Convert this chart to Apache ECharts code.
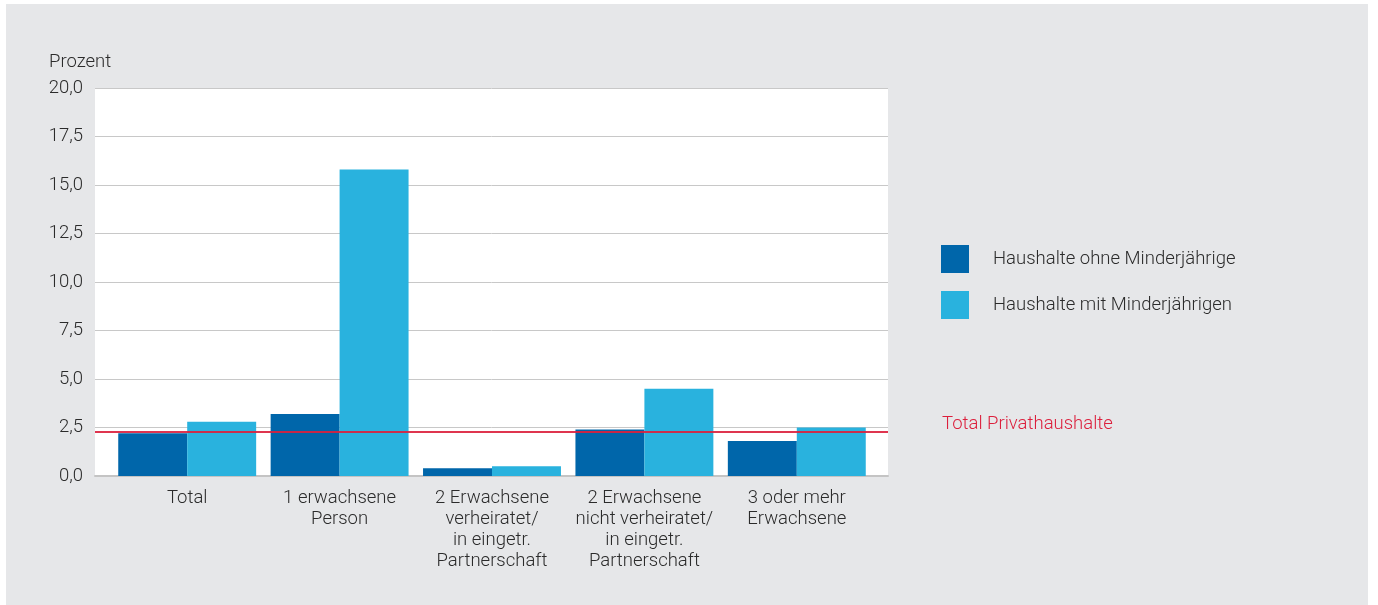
<!DOCTYPE html>
<html>
<head>
<meta charset="utf-8">
<script src="https://cdn.jsdelivr.net/npm/echarts@6/dist/echarts.min.js"></script>
<style>
  html, body { margin: 0; padding: 0; background: #ffffff; }
  #panel { position: absolute; left: 6px; top: 4px; width: 1362px; height: 601px; background: #e6e7e9; }
  #chart { width: 1362px; height: 601px; }
</style>
</head>
<body>
<div id="panel"><div id="chart"></div></div>
<script>
// Haushaltstypen (x-Achse)
const categories = [
  'Total',
  '1 erwachsene\nPerson',
  '2 Erwachsene\nverheiratet/\nin eingetr.\nPartnerschaft',
  '2 Erwachsene\nnicht verheiratet/\nin eingetr.\nPartnerschaft',
  '3 oder mehr\nErwachsene'
];
const seriesNames = ['Haushalte ohne Minderjährige', 'Haushalte mit Minderjährigen'];
const ohneMinderjaehrige = [2.2, 3.2, 0.4, 2.4, 1.8];
const mitMinderjaehrigen = [2.8, 15.8, 0.5, 4.5, 2.5];
const totalPrivathaushalte = 2.3;
const yTicks = { min: 0, max: 20, interval: 2.5 };

const font = 'Roboto, "Liberation Sans", sans-serif';
const fontWeight = 300;
const textColor = '#2b2b2b';
const fontSize = 18.5;

const chart = echarts.init(document.getElementById('chart'), null, { renderer: 'canvas' });
chart.setOption({
  animation: false,
  backgroundColor: '#e6e7e9',
  textStyle: { fontFamily: font, fontWeight: fontWeight },
  grid: [
    // Plotfläche mit Gitterlinien und y-Beschriftung
    { left: 89, top: 84, width: 793, height: 388, show: true, backgroundColor: '#ffffff', borderWidth: 0 },
    // eingerückter Bereich für die Balkengruppen
    { left: 105, top: 84, width: 762, height: 388 }
  ],
  legend: {
    orient: 'vertical',
    left: 930, top: 236,
    itemWidth: 28, itemHeight: 28, itemGap: 18,
    icon: 'rect',
    data: seriesNames,
    textStyle: { fontFamily: font, fontWeight: fontWeight, fontSize: fontSize, color: textColor, padding: [0, 0, 0, 19] }
  },
  xAxis: [
    {
      gridIndex: 0, type: 'value', min: 0, max: 1,
      axisLabel: { show: false }, axisTick: { show: false }, splitLine: { show: false },
      axisLine: { show: true, onZero: false, lineStyle: { color: '#c4c4c4', width: 2 } }
    },
    {
      gridIndex: 1, type: 'category', data: categories,
      axisTick: { show: false },
      axisLine: { show: false },
      axisLabel: {
        interval: 0, margin: 12, fontSize: fontSize, lineHeight: 21,
        color: textColor, fontFamily: font, fontWeight: fontWeight, align: 'center'
      }
    }
  ],
  yAxis: [
    {
      gridIndex: 0, type: 'value',
      min: yTicks.min, max: yTicks.max, interval: yTicks.interval,
      axisLine: { show: false },
      axisTick: { show: false },
      splitLine: { lineStyle: { color: '#c8c8c8', width: 1 } },
      axisLabel: {
        margin: 12, fontSize: fontSize, color: textColor, fontFamily: font, fontWeight: fontWeight,
        formatter: v => v.toFixed(1).replace('.', ',')
      }
    },
    {
      gridIndex: 1, type: 'value',
      min: yTicks.min, max: yTicks.max, interval: yTicks.interval,
      show: false, splitLine: { show: false }
    }
  ],
  series: [
    {
      name: seriesNames[0], type: 'bar', data: ohneMinderjaehrige,
      xAxisIndex: 1, yAxisIndex: 1,
      barGap: '0%', barCategoryGap: '9.5%',
      itemStyle: { color: '#0066aa' }
    },
    {
      name: seriesNames[1], type: 'bar', data: mitMinderjaehrigen,
      xAxisIndex: 1, yAxisIndex: 1,
      itemStyle: { color: '#29b2de' }
    },
    {
      // Referenzlinie über die ganze Plotbreite
      name: 'Total Privathaushalte', type: 'line', data: [],
      xAxisIndex: 0, yAxisIndex: 0, z: 10,
      markLine: {
        silent: true, symbol: 'none',
        label: { show: false },
        lineStyle: { color: '#dc1f3c', width: 2, type: 'solid', opacity: 0.9 },
        data: [{ yAxis: totalPrivathaushalte }]
      }
    }
  ],
  graphic: [
    {
      type: 'text', left: 43, top: 49,
      style: { text: 'Prozent', fontSize: fontSize, fontWeight: fontWeight, fill: textColor, fontFamily: font }
    },
    {
      type: 'text', left: 936, top: 411,
      style: { text: 'Total Privathaushalte', fontSize: fontSize, fontWeight: fontWeight, fill: '#dc1f3c', fontFamily: font }
    }
  ]
});
</script>
</body>
</html>
